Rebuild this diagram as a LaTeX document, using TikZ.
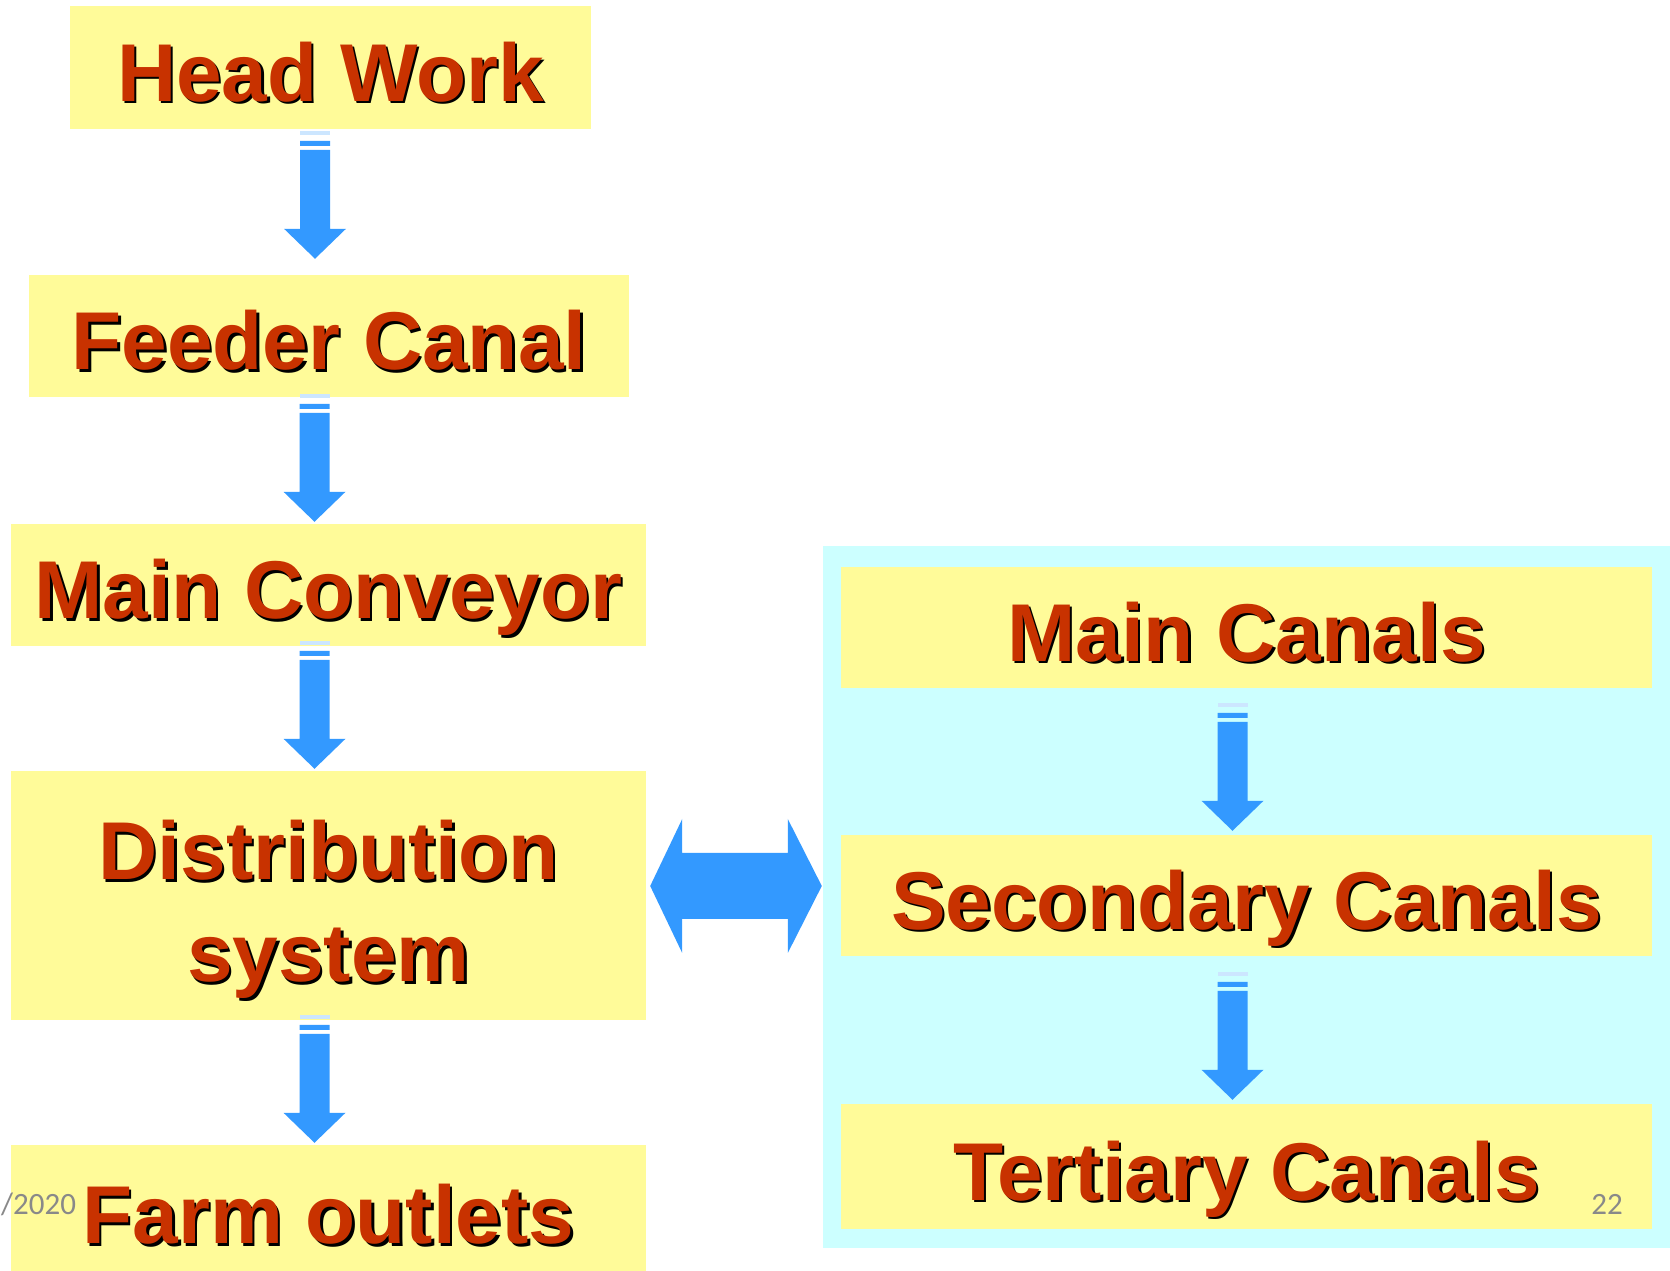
\documentclass[tikz,border=0pt]{standalone}
\usepackage{fontspec}
\setmainfont{Liberation Sans}
\newfontfamily\slidefont{Carlito}
\usetikzlibrary{calc}
\definecolor{boxyellow}{RGB}{255,251,153}
\definecolor{panelcyan}{RGB}{204,255,255}
\definecolor{arrowblue}{RGB}{51,153,255}
\definecolor{textred}{RGB}{200,50,0}
\definecolor{slidegray}{RGB}{137,137,137}
\newcommand\shadowed[1]{\leavevmode\rlap{\kern2.5pt\raisebox{-2.5pt}{\color{black}#1}}#1}
\tikzset{
    stage/.style = {rectangle, fill=boxyellow, inner sep=0pt, align=center, text=textred, font=\fontsize{82}{102}\selectfont\bfseries},
    oneline/.style = {stage, text height=74pt, text depth=6pt},
    stagew/.style = {oneline, minimum width=635pt, minimum height=122pt},
    canal/.style = {oneline, minimum width=811pt, minimum height=121pt},
    panel/.style = {rectangle, fill=panelcyan, inner sep=0pt},
    slidenum/.style = {font=\slidefont\fontsize{31}{34}\selectfont, text=slidegray, inner sep=0pt},
    flow/.style = {fill=arrowblue},
    flowfaint/.style = {fill=arrowblue!25}
}

\begin{document}
\begin{tikzpicture}[x=1pt, y=1pt]
\useasboundingbox (0,0) rectangle (1670,1271);
%
\node[panel, minimum width=852pt, minimum height=702pt] at (1249, 374) (side) {};
%
\node[oneline, minimum width=521pt, minimum height=123pt] at (330.5, 1203.5) (head) {\shadowed{Head Work}};
\node[oneline, minimum width=600pt, minimum height=122pt] at (329, 935) (feeder) {\shadowed{Feeder Canal}};
\node[stagew] at (328.5, 686) (conveyor) {\shadowed{Main Conveyor}};
\node[stage, minimum width=635pt, minimum height=249pt, text height=180pt, text depth=7pt] at (328.5, 375.5) (distrib) {\shadowed{Distribution}\\\shadowed{system}};
\node[stagew, minimum height=130pt] at (328.5, 61) (outlets) {\shadowed{Farm outlets}};
%
\node[canal] at (1246.5, 643.5) (maincan) {\shadowed{Main Canals}};
\node[canal] at (1246.5, 375.5) (seccan) {\shadowed{Secondary Canals}};
\node[canal, minimum height=125pt] at (1246.5, 104.5) (tertcan) {\shadowed{Tertiary Canals}};
%
\node[slidenum, anchor=west] at (1, 67) (date) {/2020};
\node[slidenum] at (1607, 67) (page) {22};
%
% down arrows, tip a little above the next box
\foreach \a/\b/\g in {head/feeder/16, feeder/conveyor/2, conveyor/distrib/2, distrib/outlets/2, maincan/seccan/4, seccan/tertcan/4}{
  \fill[flow] let \p1=(\a.south), \p2=(\b.north) in
    (\x2-14pt,\y2+\g pt) -- ++(-31pt,30pt) -- ++(16pt,0pt) -- ++(0pt,79pt) -- ++(30pt,0pt) -- ++(0pt,-79pt) -- ++(16pt,0pt) -- cycle
    (\x2-29pt,\y2+\g pt+113pt) rectangle ++(30pt,5pt);
  \fill[flowfaint] let \p2=(\b.north) in (\x2-29pt,\y2+\g pt+124pt) rectangle ++(30pt,4pt);
}
%
% double arrow to the canal panel
\fill[flow] let \p1=(distrib.east), \p2=(side.west), \n1={\y1+9.5pt} in
  (\x1+4pt,\n1) -- (\x1+36pt,\n1+67pt) -- (\x1+36pt,\n1+33pt) -- (\x2-35pt,\n1+33pt) -- (\x2-35pt,\n1+67pt) -- (\x2-1pt,\n1)
  -- (\x2-35pt,\n1-67pt) -- (\x2-35pt,\n1-33pt) -- (\x1+36pt,\n1-33pt) -- (\x1+36pt,\n1-67pt) -- cycle;

\end{tikzpicture}
\end{document}
